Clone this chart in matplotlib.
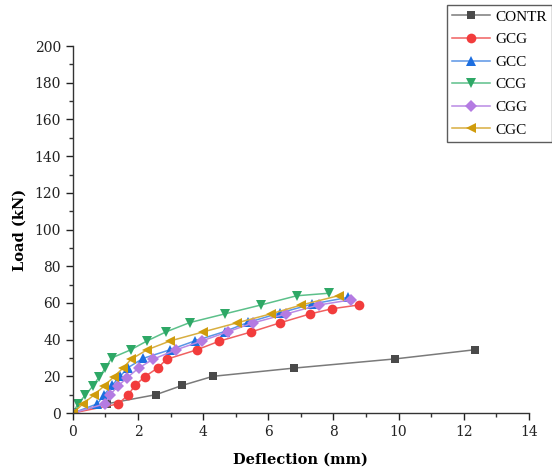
import matplotlib
matplotlib.use("Agg")
import matplotlib.pyplot as plt
from matplotlib.ticker import MultipleLocator

series_names = ["CONTR", "GCG", "GCC", "CCG", "CGG", "CGC"]

contr_x = [0, 1.04, 2.55, 3.35, 4.3, 6.8, 9.9, 12.35]
contr_y = [0, 5, 10, 15, 20, 24.5, 29.5, 34.5]

gcg_x = [0, 1.4, 1.7, 1.91, 2.2, 2.6, 2.88, 3.8, 4.5, 5.46, 6.37, 7.28, 7.95, 8.78]
gcg_y = [0, 5, 10, 15, 19.7, 24.5, 29.3, 34.4, 39.2, 44.1, 49.2, 54, 56.8, 58.9]

gcc_x = [0, 0.75, 0.96, 1.2, 1.45, 1.7, 2.16, 2.99, 3.76, 4.66, 5.38, 6.37, 7.35, 8.44]
gcc_y = [0, 5, 10, 15, 20, 24.8, 29.8, 34.5, 39.4, 44.4, 49.4, 54.6, 59.4, 63]

ccg_x = [0, 0.16, 0.38, 0.61, 0.8, 1.0, 1.19, 1.77, 2.29, 2.87, 3.59, 4.66, 5.78, 6.87, 7.87]
ccg_y = [0, 5, 9.7, 14.6, 19.5, 24.5, 30, 34.4, 39.4, 44.3, 49.3, 54, 58.9, 63.9, 65.3]

cgg_x = [0, 0.98, 1.13, 1.38, 1.67, 2.02, 2.46, 3.18, 3.98, 4.76, 5.53, 6.55, 7.55, 8.55]
cgg_y = [0, 5, 9.7, 14.6, 19.3, 24.5, 29.3, 34.5, 39.4, 44.3, 49.1, 54, 58.9, 61.7]

cgc_x = [0, 0.31, 0.64, 0.95, 1.25, 1.54, 1.79, 2.27, 2.99, 4.0, 5.05, 6.07, 7.02, 8.17]
cgc_y = [0, 5, 9.7, 14.6, 19.6, 24.5, 29.3, 34.4, 39.3, 44.2, 49.2, 54, 58.9, 64]

xs = [contr_x, gcg_x, gcc_x, ccg_x, cgg_x, cgc_x]
ys = [contr_y, gcg_y, gcc_y, ccg_y, cgg_y, cgc_y]
markers = ["s", "o", "^", "v", "D", "<"]
msizes = [6, 7, 7, 7, 6, 7]
marker_colors = ["#4a4a4a", "#f23c3c", "#1c6ee0", "#2ea866", "#b47be2", "#d09c0c"]
line_colors = ["#7a7a7a", "#f06060", "#5a95e6", "#5cc08a", "#b98ae4", "#d8ae40"]

plt.rcParams["font.family"] = ["DejaVu Serif"]
fig = plt.figure(figsize=(5.52, 4.75), dpi=100)
ax = fig.add_axes([0.132, 0.1305, 0.826, 0.7725])

for name, x, y, m, ms, mc, lc in zip(series_names, xs, ys, markers, msizes, marker_colors, line_colors):
    ax.plot(x, y, color=lc, lw=1.1, marker=m, markersize=ms,
            markerfacecolor=mc, markeredgecolor=mc, markeredgewidth=0, label=name)

ax.set_xlim(0, 14)
ax.set_ylim(0, 200)
ax.xaxis.set_major_locator(MultipleLocator(2))
ax.xaxis.set_minor_locator(MultipleLocator(1))
ax.yaxis.set_major_locator(MultipleLocator(20))
ax.yaxis.set_minor_locator(MultipleLocator(10))
for s in ["top", "right"]:
    ax.spines[s].set_visible(False)
for s in ["left", "bottom"]:
    ax.spines[s].set_linewidth(1.0)
    ax.spines[s].set_color("#333333")
ax.tick_params(which="major", direction="out", length=5, width=1, labelsize=10, colors="#222222")
ax.tick_params(which="minor", direction="out", length=3, width=1, colors="#333333")
ax.set_xlabel("Deflection (mm)", fontsize=10.5, fontweight="bold", labelpad=10)
ax.set_ylabel("Load (kN)", fontsize=10.5, fontweight="bold", labelpad=6)

leg = fig.legend(loc="upper left", bbox_to_anchor=(0.81, 0.99), frameon=True,
                 fancybox=False, edgecolor="#333333",
                 handlelength=2.45, handletextpad=0.35, labelspacing=0.58,
                 borderpad=0.35, borderaxespad=0,
                 prop={"family": ["Liberation Serif", "DejaVu Serif"], "size": 11})
leg.get_frame().set_linewidth(1.0)

fig.savefig("out.png", dpi=100)
